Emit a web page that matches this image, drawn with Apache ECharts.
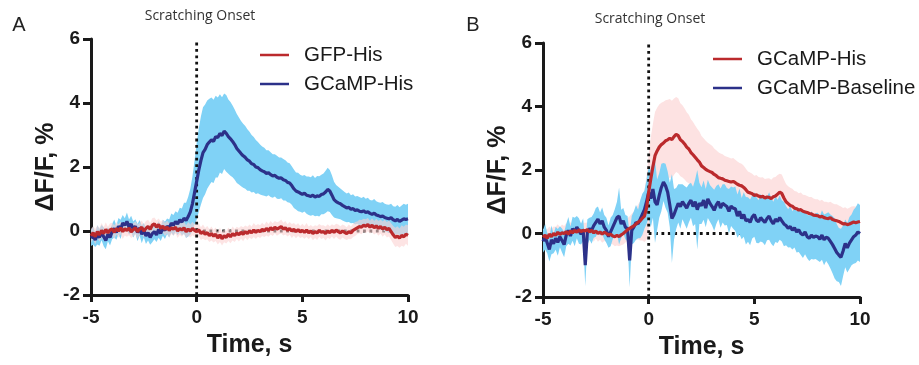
<!DOCTYPE html>
<html>
<head>
<meta charset="utf-8">
<script src="https://cdn.jsdelivr.net/npm/echarts@6/dist/echarts.min.js"></script>
<style>html,body{margin:0;padding:0;background:#fff}#c{width:919px;height:365px}</style>
</head>
<body>
<div id="c"></div>
<script>
// time grid, s (sample positions)
const time = Array.from({length: 151}, (_, i) => +(-5 + i * 0.1).toFixed(1));
const xTicks = [-5, 0, 5, 10];
const yTicks = [-2, 0, 2, 4, 6];

// Panel A: GCaMP-His mean and SEM
const aGcampMean = [
 -0.22,-0.15,-0.28,-0.12,-0.2,-0.05,-0.18,-0.3,-0.1,-0.2,
 -0.02,0.08,-0.05,0.15,0.05,0.25,0.18,0.3,0.12,0.22,
 0.05,0.15,-0.05,0.1,-0.1,0.02,-0.15,-0.05,-0.2,-0.08,
 -0.02,-0.12,0.05,-0.08,0.1,0.02,0.15,0.08,0.25,0.18,
 0.3,0.22,0.35,0.28,0.4,0.33,0.45,0.6,0.85,1.2,
 1.55,1.9,2.2,2.45,2.55,2.7,2.78,2.85,2.8,2.95,
 2.92,3.05,2.98,3.12,3.05,2.95,2.88,2.8,2.7,2.58,
 2.5,2.42,2.35,2.3,2.22,2.18,2.1,2.08,2.0,1.98,
 1.92,1.88,1.85,1.8,1.82,1.76,1.72,1.74,1.68,1.65,
 1.66,1.6,1.58,1.52,1.5,1.42,1.32,1.25,1.22,1.18,
 1.15,1.18,1.12,1.1,1.08,1.12,1.06,1.1,1.08,1.14,
 1.16,1.22,1.3,1.25,1.12,0.98,0.92,0.88,0.85,0.8,
 0.76,0.72,0.74,0.68,0.7,0.64,0.66,0.62,0.6,0.63,
 0.58,0.6,0.55,0.52,0.56,0.5,0.48,0.45,0.47,0.42,
 0.4,0.38,0.42,0.35,0.32,0.36,0.3,0.34,0.38,0.36,
 0.38];
const aGcampSem = [
 0.25,0.28,0.22,0.3,0.26,0.24,0.3,0.27,0.22,0.25,
 0.24,0.28,0.22,0.26,0.3,0.25,0.22,0.28,0.24,0.26,
 0.25,0.22,0.27,0.24,0.28,0.22,0.26,0.25,0.23,0.27,
 0.24,0.22,0.26,0.23,0.25,0.27,0.24,0.28,0.3,0.32,
 0.32,0.35,0.38,0.42,0.48,0.55,0.62,0.72,0.85,1.0,
 1.2,1.3,1.38,1.42,1.4,1.38,1.35,1.32,1.3,1.28,
 1.25,1.22,1.2,1.18,1.2,1.16,1.15,1.12,1.1,1.08,
 1.05,1.02,1.0,0.98,0.96,0.92,0.9,0.86,0.84,0.8,
 0.78,0.76,0.75,0.72,0.7,0.7,0.68,0.66,0.67,0.65,
 0.64,0.65,0.63,0.62,0.62,0.6,0.6,0.58,0.6,0.58,
 0.58,0.57,0.58,0.6,0.6,0.62,0.6,0.62,0.63,0.62,
 0.64,0.66,0.68,0.66,0.62,0.56,0.52,0.5,0.48,0.47,
 0.46,0.45,0.46,0.44,0.45,0.44,0.43,0.44,0.43,0.44,
 0.43,0.44,0.42,0.43,0.44,0.43,0.42,0.43,0.44,0.43,
 0.43,0.44,0.43,0.42,0.44,0.45,0.44,0.46,0.47,0.46,
 0.47];

// Panel A: GFP-His mean and SEM
const aGfpMean = [
 -0.15,-0.05,-0.18,-0.02,-0.12,0.02,-0.08,0.05,-0.06,0.03,
 0.06,-0.04,0.08,0.0,0.1,-0.02,0.07,0.02,0.09,-0.03,
 0.04,0.1,-0.02,0.06,0.12,0.0,0.08,0.14,0.05,0.18,
 0.22,0.12,0.2,0.08,0.15,0.05,0.12,0.02,0.1,0.06,
 0.12,0.0,0.08,0.03,0.1,-0.02,0.06,0.0,0.08,0.02,
 -0.02,0.04,-0.08,-0.02,-0.1,-0.05,-0.14,-0.08,-0.16,-0.1,
 -0.22,-0.12,-0.24,-0.15,-0.2,-0.1,-0.18,-0.08,-0.14,-0.06,
 -0.12,-0.04,-0.1,-0.02,-0.08,0.0,-0.06,0.03,-0.04,0.02,
 -0.02,0.05,0.0,0.08,0.02,0.1,0.04,0.12,0.06,0.1,
 0.14,0.06,0.1,0.02,0.08,0.0,0.05,-0.02,0.04,-0.03,
 0.02,-0.04,0.03,-0.06,0.0,-0.08,-0.02,-0.06,0.02,-0.04,
 -0.02,-0.08,0.0,-0.05,0.02,-0.04,0.03,-0.02,-0.06,0.0,
 -0.04,-0.08,-0.02,-0.06,0.02,0.06,0.1,0.14,0.12,0.18,
 0.15,0.2,0.12,0.18,0.1,0.16,0.08,0.14,0.06,0.12,
 0.04,0.08,-0.02,-0.12,-0.2,-0.16,-0.22,-0.14,-0.18,-0.1,
 -0.14];
const aGfpSem = [
 0.22,0.2,0.24,0.19,0.21,0.23,0.2,0.22,0.19,0.21,
 0.2,0.22,0.19,0.21,0.2,0.23,0.21,0.2,0.22,0.19,
 0.21,0.2,0.22,0.19,0.21,0.2,0.23,0.21,0.2,0.22,
 0.2,0.21,0.19,0.22,0.2,0.21,0.2,0.22,0.19,0.21,
 0.2,0.22,0.2,0.21,0.19,0.2,0.22,0.2,0.21,0.2,
 0.2,0.21,0.2,0.22,0.19,0.21,0.2,0.22,0.2,0.21,
 0.2,0.22,0.21,0.2,0.19,0.21,0.2,0.22,0.2,0.19,
 0.21,0.2,0.22,0.19,0.21,0.2,0.2,0.22,0.21,0.2,
 0.2,0.21,0.19,0.22,0.2,0.21,0.2,0.19,0.21,0.2,
 0.22,0.2,0.21,0.19,0.2,0.22,0.2,0.21,0.2,0.19,
 0.21,0.2,0.22,0.2,0.19,0.21,0.2,0.22,0.2,0.21,
 0.2,0.22,0.21,0.2,0.19,0.21,0.2,0.22,0.21,0.2,
 0.21,0.2,0.22,0.2,0.21,0.22,0.2,0.21,0.22,0.2,
 0.22,0.21,0.2,0.22,0.21,0.22,0.23,0.22,0.24,0.23,
 0.24,0.25,0.26,0.28,0.3,0.31,0.3,0.32,0.31,0.3,
 0.32];

// Panel B: GCaMP-His mean and SEM
const bHisMean = [
 -0.12,-0.05,-0.15,-0.02,-0.1,0.0,-0.06,0.04,-0.03,0.02,
 0.0,0.06,-0.02,0.08,0.02,0.1,0.04,0.12,0.06,0.1,
 0.08,0.12,0.05,0.1,0.02,0.08,0.0,0.05,-0.02,0.04,
 0.0,-0.05,-0.02,-0.08,-0.1,-0.06,-0.1,-0.04,0.0,0.06,
 0.12,0.16,0.2,0.24,0.3,0.36,0.4,0.48,0.55,0.8,
 1.3,1.72,2.1,2.45,2.6,2.72,2.8,2.85,2.92,2.95,
 3.0,2.96,3.05,3.12,3.08,2.95,2.9,2.82,2.72,2.66,
 2.55,2.48,2.4,2.32,2.25,2.13,2.08,2.02,1.98,1.95,
 1.92,1.86,1.82,1.76,1.74,1.72,1.68,1.66,1.64,1.62,
 1.64,1.6,1.55,1.52,1.5,1.45,1.38,1.3,1.28,1.25,
 1.2,1.22,1.18,1.15,1.17,1.12,1.15,1.14,1.1,1.16,
 1.18,1.24,1.3,1.26,1.12,1.0,0.94,0.88,0.86,0.8,
 0.78,0.74,0.75,0.7,0.68,0.66,0.63,0.62,0.58,0.57,
 0.56,0.52,0.54,0.5,0.48,0.47,0.5,0.44,0.42,0.4,
 0.38,0.34,0.3,0.31,0.28,0.3,0.33,0.36,0.34,0.36,
 0.38];
const bHisSem = [
 0.25,0.22,0.28,0.24,0.26,0.22,0.27,0.25,0.23,0.26,
 0.24,0.27,0.25,0.28,0.24,0.26,0.22,0.25,0.27,0.24,
 0.26,0.23,0.27,0.25,0.28,0.24,0.26,0.25,0.27,0.28,
 0.26,0.28,0.3,0.27,0.3,0.32,0.3,0.33,0.35,0.34,
 0.36,0.38,0.42,0.45,0.5,0.55,0.62,0.7,0.82,1.0,
 1.2,1.3,1.35,1.38,1.36,1.34,1.32,1.3,1.28,1.26,
 1.24,1.22,1.2,1.18,1.18,1.15,1.14,1.12,1.1,1.08,
 1.05,1.03,1.0,0.98,0.96,0.94,0.92,0.9,0.88,0.86,
 0.84,0.82,0.8,0.8,0.78,0.78,0.76,0.76,0.75,0.74,
 0.74,0.72,0.72,0.7,0.7,0.68,0.66,0.65,0.64,0.63,
 0.62,0.62,0.6,0.61,0.6,0.6,0.58,0.6,0.59,0.6,
 0.6,0.6,0.58,0.6,0.58,0.56,0.55,0.56,0.55,0.54,
 0.54,0.53,0.54,0.52,0.53,0.52,0.52,0.53,0.52,0.51,
 0.52,0.51,0.52,0.5,0.52,0.51,0.5,0.51,0.5,0.52,
 0.5,0.51,0.5,0.52,0.5,0.51,0.52,0.5,0.51,0.52,
 0.52];

// Panel B: GCaMP-Baseline mean and SEM
const bBaseMean = [
 -0.25,-0.1,-0.3,-0.5,-0.2,-0.32,-0.15,-0.28,-0.1,-0.22,
 -0.35,-0.05,0.1,-0.08,0.15,0.05,0.2,0.08,-0.02,0.12,
 -1.0,0.05,0.15,0.1,0.25,0.35,0.45,0.3,0.4,0.2,
 0.1,-0.1,0.05,0.2,0.35,0.5,0.55,0.3,0.4,0.2,
 0.15,-0.85,0.1,0.2,0.35,0.3,0.45,0.6,0.75,1.0,
 1.3,1.1,1.4,1.0,0.9,1.2,1.45,1.62,1.5,1.3,
 0.9,0.47,0.6,0.78,0.95,0.85,1.0,0.9,0.8,0.95,
 1.05,0.85,1.0,0.75,0.95,0.88,1.05,0.8,1.09,0.95,
 0.85,0.73,0.9,1.0,0.8,0.95,0.9,0.85,0.7,0.86,
 0.8,0.78,0.55,0.7,0.47,0.6,0.4,0.44,0.35,0.52,
 0.6,0.42,0.37,0.5,0.42,0.35,0.47,0.55,0.4,0.3,
 0.45,0.38,0.5,0.4,0.3,0.25,0.16,0.22,0.1,0.18,
 0.05,0.12,0.0,-0.05,0.05,-0.1,-0.15,-0.05,-0.12,-0.08,
 -0.1,-0.18,-0.05,-0.2,-0.12,-0.15,-0.25,-0.35,-0.47,-0.6,
 -0.68,-0.75,-0.55,-0.31,-0.45,-0.3,-0.2,-0.1,-0.05,0.05,
 0.0];
const bBaseSem = [
 0.35,0.4,0.32,0.38,0.45,0.3,0.36,0.42,0.33,0.38,
 0.4,0.35,0.42,0.3,0.38,0.45,0.35,0.4,0.33,0.36,
 0.66,0.4,0.35,0.42,0.38,0.45,0.4,0.36,0.42,0.38,
 0.4,0.35,0.45,0.38,0.42,0.5,0.9,0.45,0.4,0.38,
 0.4,0.85,0.45,0.5,0.55,0.45,0.6,0.65,0.6,0.7,
 0.8,0.9,0.9,1.3,0.8,0.7,0.75,0.6,0.7,0.65,
 0.7,1.4,0.8,0.65,0.6,0.7,0.55,0.6,0.65,0.6,
 0.55,0.62,0.7,1.25,0.65,0.58,0.62,0.6,0.6,0.58,
 0.6,0.65,0.6,0.55,0.62,0.6,0.65,0.58,0.7,0.62,
 0.65,0.7,0.68,0.72,0.65,0.7,0.75,0.7,0.72,0.68,
 0.7,0.72,0.68,0.75,0.7,0.72,0.68,0.75,0.72,0.7,
 0.72,0.68,0.7,0.65,0.7,0.62,0.6,0.65,0.6,0.62,
 0.65,0.7,0.68,0.72,0.7,0.68,0.72,0.75,0.7,0.72,
 0.75,0.72,0.78,0.8,0.75,0.82,0.85,0.9,0.95,0.9,
 0.85,0.9,0.8,0.75,0.78,0.82,0.8,0.85,0.88,0.9,
 0.9];

const RED = '#bb2a2d', NAVY = '#2c3189', LIGHTBLUE = '#80d2f6', PINK = '#fde2e2';
const FONT = 'Liberation Sans';

function pairs(arr) { return time.map((t, i) => [t, arr[i]]); }
function band(mean, sem, color, xi, z) {
  return {
    type: 'custom', xAxisIndex: xi, yAxisIndex: xi, z: z, silent: true,
    data: [[0, 0]], encode: {x: 0, y: 1},
    renderItem: function (params, api) {
      const pts = [];
      for (let i = 0; i < time.length; i++) pts.push(api.coord([time[i], mean[i] + sem[i]]));
      for (let i = time.length - 1; i >= 0; i--) pts.push(api.coord([time[i], mean[i] - sem[i]]));
      return {type: 'polygon', shape: {points: pts}, style: {fill: color, stroke: null}};
    }
  };
}
function meanLine(name, mean, color, xi, z) {
  return {type: 'line', name: name, xAxisIndex: xi, yAxisIndex: xi, z: z, data: pairs(mean),
    showSymbol: false, symbol: 'none', silent: true, animation: false,
    lineStyle: {color: color, width: 3.2}, itemStyle: {color: color}};
}
function dotted(xi, pts, z) {
  return {type: 'line', xAxisIndex: xi, yAxisIndex: xi, z: z, data: pts, showSymbol: false, symbol: 'none',
    silent: true, lineStyle: {color: '#111', width: 2.8, type: [2.8, 3.6]}};
}
function xAx(gi) {
  return {gridIndex: gi, type: 'value', min: -5, max: 10, interval: 5,
    name: 'Time, s', nameLocation: 'middle', nameGap: 38,
    nameTextStyle: {fontFamily: FONT, fontWeight: 'bold', fontSize: 25, color: '#1a1a1a'},
    axisLine: {onZero: false, lineStyle: {color: '#1a1a1a', width: 3}},
    axisTick: {length: 7, lineStyle: {width: 3, color: '#1a1a1a'}},
    axisLabel: {margin: 13, fontFamily: FONT, fontWeight: 'bold', fontSize: 19, color: '#1a1a1a',
      customValues: xTicks},
    splitLine: {show: false}};
}
function yAx(gi) {
  return {gridIndex: gi, type: 'value', min: -2, max: 6, interval: 2,
    name: 'ΔF/F, %', nameLocation: 'middle', nameGap: 32,
    nameTextStyle: {fontFamily: FONT, fontWeight: 'bold', fontSize: 25, color: '#1a1a1a'},
    axisLine: {show: true, onZero: false, lineStyle: {color: '#1a1a1a', width: 3}},
    axisTick: {show: true, length: 8, lineStyle: {width: 3, color: '#1a1a1a'}},
    axisLabel: {margin: 11, fontFamily: FONT, fontWeight: 'bold', fontSize: 19, color: '#1a1a1a'},
    splitLine: {show: false}};
}
function legend(left, top, items) {
  return {orient: 'vertical', left: left, top: top, padding: 0, itemGap: 5, itemWidth: 29, itemHeight: 2.5,
    selectedMode: false, icon: 'rect',
    textStyle: {fontFamily: FONT, fontSize: 20.5, color: '#1a1a1a', lineHeight: 24, padding: [0, 0, 0, 10]},
    data: items.map(it => ({name: it[0], icon: 'rect', itemStyle: {color: it[1], borderWidth: 0}, lineStyle: {color: it[1]}}))};
}

const chart = echarts.init(document.getElementById('c'), null, {renderer: 'canvas'});
chart.setOption({
  animation: false,
  backgroundColor: '#ffffff',
  grid: [
    {left: 91, top: 39, width: 317, height: 256},
    {left: 543, top: 43, width: 317, height: 256}
  ],
  xAxis: [xAx(0), xAx(1)],
  yAxis: [yAx(0), yAx(1)],
  legend: [
    legend(260, 43, [['GFP-His', RED], ['GCaMP-His', NAVY]]),
    legend(713, 47, [['GCaMP-His', RED], ['GCaMP-Baseline', NAVY]])
  ],
  graphic: [
    {type: 'text', x: 19, y: 25, style: {text: 'A', font: '20px "Liberation Sans"', fill: '#222', align: 'center', verticalAlign: 'middle'}},
    {type: 'text', x: 473, y: 25, style: {text: 'B', font: '20px "Liberation Sans"', fill: '#222', align: 'center', verticalAlign: 'middle'}},
    {type: 'text', x: 200, y: 16, style: {text: 'Scratching Onset', font: '14px "Open Sans"', fill: '#333', align: 'center', verticalAlign: 'middle'}},
    {type: 'text', x: 650, y: 19, style: {text: 'Scratching Onset', font: '14px "Open Sans"', fill: '#333', align: 'center', verticalAlign: 'middle'}}
  ],
  series: [
    dotted(0, [[0, 0], [10, 0]], 1),
    band(aGcampMean, aGcampSem, LIGHTBLUE, 0, 2),
    band(aGfpMean, aGfpSem, 'rgba(251,210,210,0.6)', 0, 3),
    dotted(0, [[0, -2], [0, 6]], 4),
    meanLine('GCaMP-His', aGcampMean, NAVY, 0, 5),
    meanLine('GFP-His', aGfpMean, RED, 0, 6),

    dotted(1, [[0, 0], [10, 0]], 1),
    band(bHisMean, bHisSem, PINK, 1, 2),
    band(bBaseMean, bBaseSem, LIGHTBLUE, 1, 3),
    dotted(1, [[0, -2], [0, 6]], 4),
    meanLine('GCaMP-Baseline', bBaseMean, NAVY, 1, 5),
    meanLine('GCaMP-His', bHisMean, RED, 1, 6)
  ]
});
</script>
</body>
</html>
